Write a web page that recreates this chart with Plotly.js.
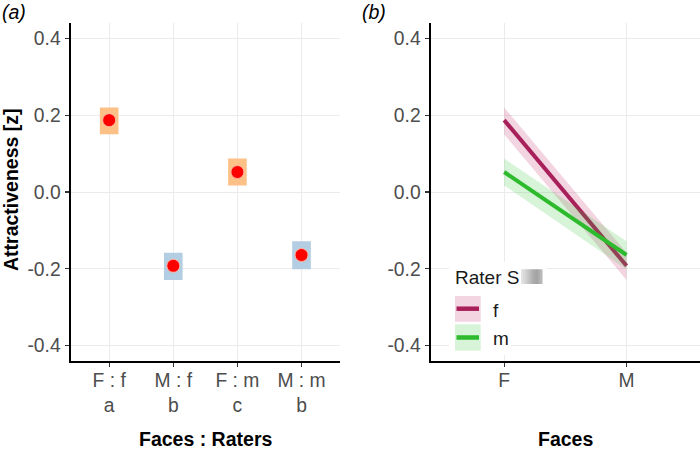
<!DOCTYPE html>
<html>
<head>
<meta charset="utf-8">
<script src="https://cdn.plot.ly/plotly-3.0.1.min.js"></script>
<style>
  html, body { margin: 0; padding: 0; background: #ffffff; }
  #chart { width: 700px; height: 451px; }
</style>
</head>
<body>
<div id="chart"></div>
<script>
// Estimated marginal means of attractiveness (z) with confidence limits
const faces = ['F', 'M'];
const raterSexes = ['f', 'm'];

// female raters: F faces, M faces
const femaleRaterMean  = [0.187, -0.192];
const femaleRaterLower = [0.150, -0.229];
const femaleRaterUpper = [0.220, -0.158];

// male raters: F faces, M faces
const maleRaterMean  = [0.052, -0.164];
const maleRaterLower = [0.017, -0.201];
const maleRaterUpper = [0.087, -0.128];

// panel (a) interaction categories and compact-letter groups
const interactionCats = ['F : f', 'M : f', 'F : m', 'M : m'];
const groupLetters = ['a', 'b', 'c', 'b'];

const yTickVals = [-0.4, -0.2, 0.0, 0.2, 0.4];
const yTickText = ['-0.4', '-0.2', '0.0', '0.2', '0.4'];

// panel (a) series assembled from the rater/face arrays
const catMean  = [femaleRaterMean[0],  femaleRaterMean[1],  maleRaterMean[0],  maleRaterMean[1]];
const catLower = [femaleRaterLower[0], femaleRaterLower[1], maleRaterLower[0], maleRaterLower[1]];
const catUpper = [femaleRaterUpper[0], femaleRaterUpper[1], maleRaterUpper[0], maleRaterUpper[1]];
const catFace  = ['F', 'M', 'F', 'M'];

const FONT = '"Liberation Sans", Arial, Helvetica, sans-serif';
const TICK_SIZE = 19.3;
const faceFill = { F: '#FDC086', M: '#B3CDE3' };
const lineCol = { f: '#A8205A', m: '#2DBA2D' };
const ribbonCol = { f: 'rgba(200,60,120,0.22)', m: 'rgba(60,200,60,0.2)' };

const traces = [];

// (a) confidence boxes
traces.push({
  type: 'bar',
  x: interactionCats,
  base: catLower,
  y: catUpper.map((u, i) => u - catLower[i]),
  width: 0.29,
  marker: { color: catFace.map(f => faceFill[f]), line: { width: 0 } },
  xaxis: 'x', yaxis: 'y',
  hoverinfo: 'skip'
});
// (a) means
traces.push({
  type: 'scatter', mode: 'markers',
  x: interactionCats, y: catMean,
  marker: { color: '#FF0000', size: 13, line: { color: 'rgba(255,190,170,0.9)', width: 1 } },
  xaxis: 'x', yaxis: 'y',
  hoverinfo: 'skip'
});

// (b) ribbons and lines per rater sex
const groups = {
  f: { mean: femaleRaterMean, lo: femaleRaterLower, hi: femaleRaterUpper },
  m: { mean: maleRaterMean, lo: maleRaterLower, hi: maleRaterUpper }
};
raterSexes.forEach(s => {
  const g = groups[s];
  traces.push({
    type: 'scatter', mode: 'lines',
    x: [faces[0], faces[1], faces[1], faces[0]],
    y: [g.hi[0], g.hi[1], g.lo[1], g.lo[0]],
    fill: 'toself', fillcolor: ribbonCol[s],
    line: { width: 0 },
    xaxis: 'x2', yaxis: 'y2', hoverinfo: 'skip'
  });
  traces.push({
    type: 'scatter', mode: 'lines',
    x: faces, y: g.mean,
    line: { color: lineCol[s], width: 4 },
    xaxis: 'x2', yaxis: 'y2', hoverinfo: 'skip'
  });
});

// pixel helpers for paper-referenced decorations
const W = 700, H = 451;
const px = x => x / W;
const py = y => 1 - y / H;

const yDomain = [py(360.7), py(22.7)];
const yRange = [-0.439, 0.4406];

const commonY = {
  range: yRange, tickvals: yTickVals, ticktext: yTickText,
  showgrid: true, gridcolor: '#EBEBEB', gridwidth: 1, zeroline: false,
  showline: true, linecolor: '#000000', linewidth: 2.2,
  ticks: 'outside', ticklen: 4, tickcolor: '#333333', tickwidth: 1.2,
  tickfont: { family: FONT, size: TICK_SIZE, color: '#4D4D4D' },
  fixedrange: true, automargin: false
};
const commonX = {
  type: 'category',
  showgrid: true, gridcolor: '#EBEBEB', gridwidth: 1, zeroline: false,
  showline: true, linecolor: '#000000', linewidth: 2.2,
  ticks: 'outside', ticklen: 4, tickcolor: '#333333', tickwidth: 1.2,
  tickfont: { family: FONT, size: TICK_SIZE, color: '#4D4D4D' },
  ticklabelstandoff: -3,
  fixedrange: true, automargin: false
};

const annotations = [
  { text: '<i>(a)</i>', x: px(1), y: 1, xanchor: 'left', yanchor: 'top', borderpad: 0,
    font: { family: FONT, size: 19.5, color: '#000' } },
  { text: '<i>(b)</i>', x: px(361), y: 1, xanchor: 'left', yanchor: 'top', borderpad: 0,
    font: { family: FONT, size: 19.5, color: '#000' } },
  { text: '<b>Attractiveness [z]</b>', x: px(11), y: py(190), textangle: -90,
    xanchor: 'center', yanchor: 'middle', font: { family: FONT, size: 19.5, color: '#000' } },
  { text: '<b>Faces : Raters</b>', x: px(205), y: 0, xanchor: 'center', yanchor: 'bottom', borderpad: 0,
    font: { family: FONT, size: 19.5, color: '#000' } },
  { text: '<b>Faces</b>', x: px(565), y: 0, xanchor: 'center', yanchor: 'bottom', borderpad: 0,
    font: { family: FONT, size: 19.5, color: '#000' } },
  // legend text
  { text: 'Rater S', x: px(453), y: py(277), xanchor: 'left', yanchor: 'middle',
    font: { family: FONT, size: 19, color: '#1A1A1A' } },
  { text: raterSexes[0], x: px(490.5), y: py(310), xanchor: 'left', yanchor: 'middle',
    font: { family: FONT, size: 19, color: '#1A1A1A' } },
  { text: raterSexes[1], x: px(490.5), y: py(338), xanchor: 'left', yanchor: 'middle',
    font: { family: FONT, size: 19, color: '#1A1A1A' } }
].map(a => Object.assign({ xref: 'paper', yref: 'paper', showarrow: false }, a));

function rect(x0, y0, x1, y1, fill) {
  return { type: 'rect', xref: 'paper', yref: 'paper', layer: 'above',
    x0: px(x0), x1: px(x1), y0: py(y1), y1: py(y0),
    fillcolor: fill, line: { width: 0 } };
}
function hline(x0, x1, y, color, w) {
  return { type: 'line', xref: 'paper', yref: 'paper', layer: 'above',
    x0: px(x0), x1: px(x1), y0: py(y), y1: py(y),
    line: { color: color, width: w } };
}

const shapes = [
  // legend background
  rect(449, 262, 546, 290, '#FFFFFF'),
  rect(449, 290, 511, 355, '#FFFFFF'),
  // legend keys
  rect(455, 296, 480.7, 321.7, ribbonCol.f),
  hline(456.5, 479, 308.7, lineCol.f, 4.5),
  rect(455, 324.3, 480.7, 350.7, ribbonCol.m),
  hline(456.5, 479, 337.5, lineCol.m, 4.5)
];
// shaded block after the legend title
const shade = ['#E2E2E2', '#D8D8D8', '#CECECE', '#C4C4C4', '#BABABA', '#B0B0B0', '#A8A8A8', '#A4A4A4', '#ACACAC', '#B8B8B8'];
shade.forEach((c, i) => {
  const x0 = 521 + i * 2.1;
  shapes.push(rect(x0, 269.3, x0 + 2.6, 284, c));
});

const layout = {
  width: W, height: H,
  margin: { l: 0, r: 0, t: 0, b: 0, pad: 0 },
  paper_bgcolor: '#FFFFFF', plot_bgcolor: '#FFFFFF',
  showlegend: false,
  font: { family: FONT },
  xaxis: Object.assign({}, commonX, {
    domain: [px(70.7), px(340)], anchor: 'y',
    range: [-0.6, 3.6],
    tickvals: interactionCats,
    ticktext: interactionCats.map((c, i) => c + '<br>' + groupLetters[i])
  }),
  yaxis: Object.assign({}, commonY, { domain: yDomain, anchor: 'x' }),
  xaxis2: Object.assign({}, commonX, {
    domain: [px(430.7), 1], anchor: 'y2',
    range: [-0.6, 1.6],
    tickvals: faces, ticktext: faces
  }),
  yaxis2: Object.assign({}, commonY, { domain: yDomain, anchor: 'x2' }),
  annotations: annotations,
  shapes: shapes
};

Plotly.newPlot('chart', traces, layout, { displayModeBar: false, staticPlot: true });
</script>
</body>
</html>
